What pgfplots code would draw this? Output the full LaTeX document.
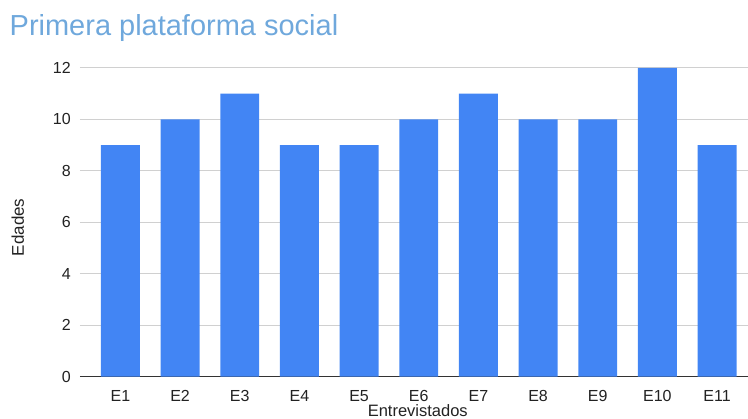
\documentclass[border=0pt]{standalone}
\usepackage{pgfplots}
\pgfplotsset{compat=1.18}
\usepackage{fontspec}
\setmainfont{Liberation Sans}
\definecolor{barblue}{HTML}{4285F4}
\definecolor{titleblue}{HTML}{6FA8DC}
\definecolor{txt}{HTML}{222222}
\definecolor{gridc}{HTML}{D0D0D0}
\definecolor{zeroc}{HTML}{333333}
\begin{document}
\begin{tikzpicture}
\begin{axis}[
  scale only axis,
  width=668pt, height=309pt,
  xmin=-0.678, xmax=10.51,
  ymin=0, ymax=12,
  ybar, bar width=39pt,
  xtick={0,...,10},
  xticklabels={E1,E2,E3,E4,E5,E6,E7,E8,E9,E10,E11},
  ytick={2,4,...,12},
  extra y ticks={0},
  extra y tick style={major grid style={draw=zeroc, line width=1pt}},
  ymajorgrids,
  major grid style={draw=gridc, line width=0.9pt},
  axis line style={draw=none},
  tick style={draw=none},
  /pgf/number format/assume math mode=true,
  ticklabel style={font=\fontsize{16}{19}\selectfont, text=txt},
  yticklabel style={inner sep=0pt, xshift=-9pt},
  xticklabel style={inner sep=0pt, yshift=-9.5pt},
  axis on top=false,
]
\addplot[fill=barblue, draw=none] coordinates {
(0,9) (1,10) (2,11) (3,9) (4,9) (5,10) (6,11) (7,10) (8,10) (9,12) (10,9)
};
\end{axis}
\path[use as bounding box] ([shift={(-80pt,-42pt)}]current axis.south west) rectangle ([shift={(0pt,68pt)}]current axis.north east);
\node[anchor=base west, inner sep=0pt, text=titleblue, font=\fontsize{29}{34}\selectfont] at ([shift={(-70.5pt,32pt)}]current axis.north west) {Primera plataforma social};
\node[anchor=base, inner sep=0pt, text=txt, font=\fontsize{16.5}{20}\selectfont] at ([shift={(4pt,-40pt)}]current axis.south) {Entrevistados};
\node[anchor=base, rotate=90, inner sep=0pt, text=txt, font=\fontsize{17}{20}\selectfont] at ([shift={(-56pt,-5pt)}]current axis.west) {Edades};
\end{tikzpicture}
\end{document}
